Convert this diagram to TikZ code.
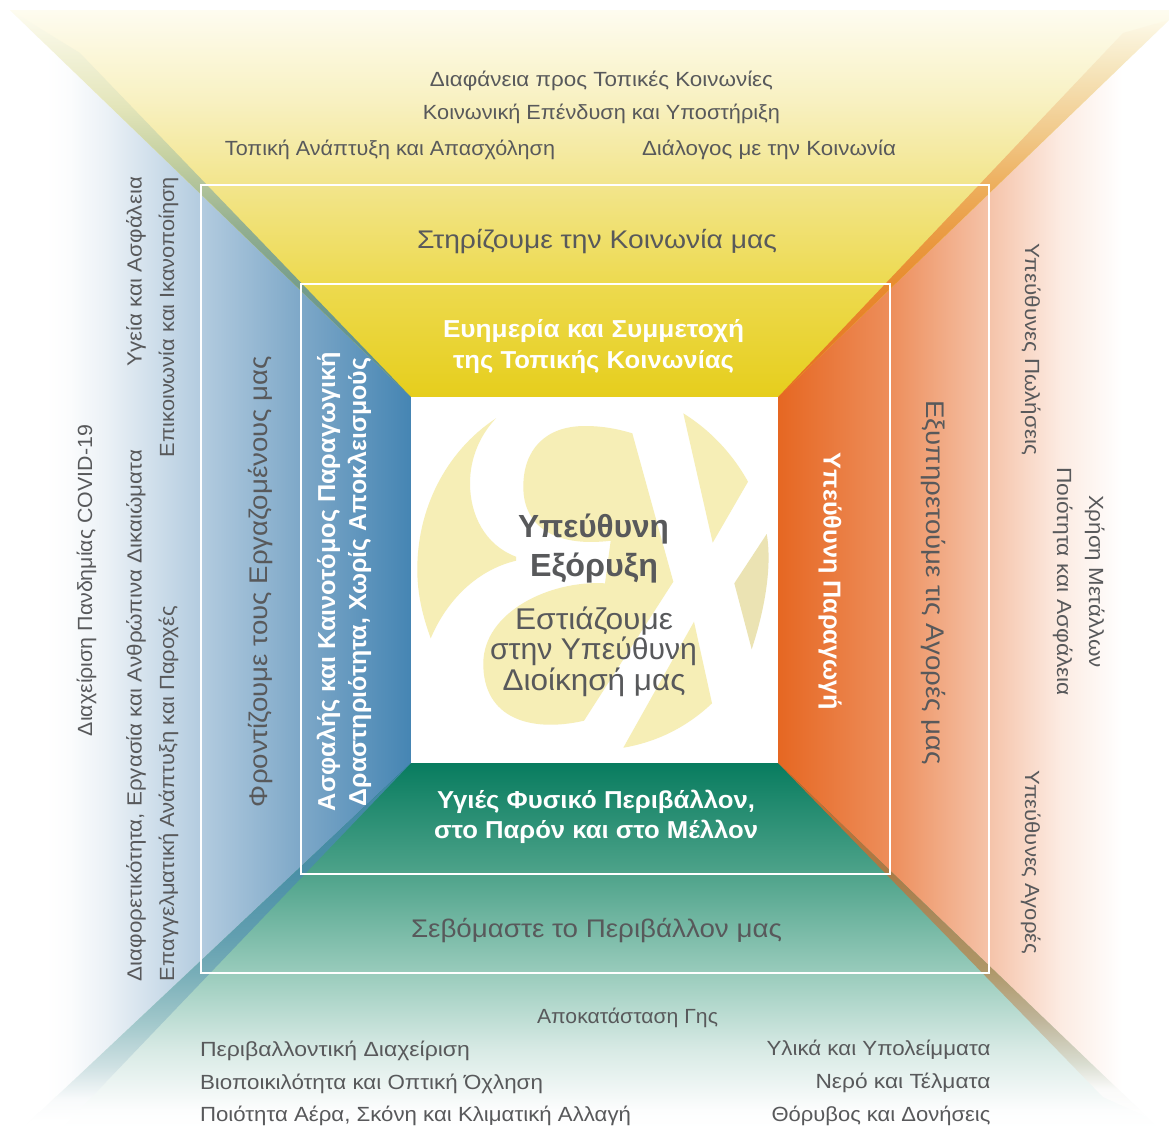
\documentclass[tikz,border=0pt]{standalone}
\usepackage{graphicx}
\usepackage{fontspec}
\setmainfont{Liberation Sans}
\definecolor{txt}{HTML}{58595B}
\definecolor{logoy}{HTML}{F6EEB6}
\definecolor{logog}{HTML}{EBE3B3}
\definecolor{ya}{HTML}{E6CE1C}\definecolor{yb}{HTML}{EDDA4F}\definecolor{yc}{HTML}{F2E58C}\definecolor{yd}{HTML}{F8F1C2}\definecolor{ye}{HTML}{FEFCF0}
\definecolor{ga}{HTML}{087C5F}\definecolor{gb}{HTML}{4EA38A}\definecolor{gc}{HTML}{98CBBB}\definecolor{gd}{HTML}{D8EAE5}\definecolor{ge}{HTML}{FCFDFD}
\definecolor{ba}{HTML}{4585B3}\definecolor{bb}{HTML}{7EA8C8}\definecolor{bc}{HTML}{B2CBDF}\definecolor{bd}{HTML}{EBF1F6}\definecolor{be}{HTML}{FBFCFD}
\definecolor{oa}{HTML}{E66722}\definecolor{ob}{HTML}{ED8E5B}\definecolor{oc}{HTML}{F5C3A9}\definecolor{od}{HTML}{FCEBE2}
\definecolor{tla}{HTML}{4F8A9C}\definecolor{tlb}{HTML}{5E9194}\definecolor{tlc}{HTML}{779E8C}\definecolor{tld}{HTML}{93AF90}\definecolor{tle}{HTML}{C3CFA0}\definecolor{tlf}{HTML}{E3E5BA}
\definecolor{tra}{HTML}{E66A20}\definecolor{trb}{HTML}{E88C2E}\definecolor{trc}{HTML}{EA9C45}\definecolor{trd}{HTML}{EDAE5C}\definecolor{tre}{HTML}{F1C98A}\definecolor{trf}{HTML}{F6E6BE}\definecolor{trg}{HTML}{FDF9E8}
\definecolor{bla}{HTML}{3F84A6}\definecolor{blb}{HTML}{4A8FA6}\definecolor{blc}{HTML}{629FB0}\definecolor{bld}{HTML}{78AEB8}\definecolor{ble}{HTML}{A2C8CB}\definecolor{blf}{HTML}{CFE1E3}\definecolor{blg}{HTML}{F8FAFB}
\definecolor{bra}{HTML}{CC6826}\definecolor{brb}{HTML}{BE7036}\definecolor{brc}{HTML}{A97B47}\definecolor{brd}{HTML}{A98A5C}\definecolor{bre}{HTML}{AE9666}\definecolor{brf}{HTML}{BEB397}\definecolor{brg}{HTML}{D9DDD0}\definecolor{brh}{HTML}{FAFAF9}
\pgfdeclareverticalshading{yelsh}{100bp}{color(0bp)=(ya); color(25bp)=(ya); color(39.6bp)=(yb); color(52.4bp)=(yc); color(63.4bp)=(yd); color(75bp)=(ye); color(100bp)=(ye)}
\pgfdeclareverticalshading{gresh}{100bp}{color(0bp)=(white); color(25bp)=(white); color(27.5bp)=(ge); color(35.7bp)=(gd); color(46.4bp)=(gc); color(59.8bp)=(gb); color(75bp)=(ga); color(100bp)=(ga)}
\pgfdeclarehorizontalshading{blush}{100bp}{color(0bp)=(white); color(30.5bp)=(white); color(33.5bp)=(be); color(38bp)=(bd); color(49.6bp)=(bc); color(61.5bp)=(bb); color(75bp)=(ba); color(100bp)=(ba)}
\pgfdeclarehorizontalshading{orash}{100bp}{color(0bp)=(oa); color(25bp)=(oa); color(39.3bp)=(ob); color(52bp)=(oc); color(61.1bp)=(od); color(69bp)=(white); color(100bp)=(white)}
\pgfdeclareverticalshading{tlsh}{100bp}{color(0bp)=(tla); color(25bp)=(tla); color(31.1bp)=(tlb); color(39.7bp)=(tlc); color(47bp)=(tld); color(55.6bp)=(tle); color(62.5bp)=(tlf); color(75bp)=(ye); color(100bp)=(ye)}
\pgfdeclareverticalshading{trsh}{100bp}{color(0bp)=(tra); color(25bp)=(tra); color(40.1bp)=(trb); color(47.1bp)=(trc); color(52.9bp)=(trd); color(60bp)=(tre); color(68.8bp)=(trf); color(75bp)=(trg); color(100bp)=(trg)}
\pgfdeclareverticalshading{blsh}{100bp}{color(0bp)=(white); color(26bp)=(white); color(29bp)=(blg); color(33.4bp)=(blf); color(39.4bp)=(ble); color(46.2bp)=(bld); color(51.2bp)=(blc); color(60.3bp)=(blb); color(75bp)=(bla); color(100bp)=(bla)}
\pgfdeclareverticalshading{brsh}{100bp}{color(0bp)=(white); color(25bp)=(white); color(29bp)=(brh); color(32.6bp)=(brg); color(39.1bp)=(brf); color(46.2bp)=(bre); color(53.2bp)=(brd); color(59.5bp)=(brc); color(67bp)=(brb); color(75bp)=(bra); color(100bp)=(bra)}
\newcommand\tx[3]{\fontsize{#2pt}{#2pt}\selectfont\resizebox{#1pt}{\height}{#3}}
\tikzset{
  lbl/.style={anchor=base,inner sep=0pt,outer sep=0pt,text=txt},
  lblw/.style={anchor=base,inner sep=0pt,outer sep=0pt,text=white,font=\bfseries},
  lbll/.style={anchor=base west,inner sep=0pt,outer sep=0pt,text=txt},
  lblr/.style={anchor=base east,inner sep=0pt,outer sep=0pt,text=txt},
  framebox/.style={draw=white,line width=2pt,fill=none}
}
\begin{document}
\begin{tikzpicture}[x=1pt,y=-1pt]
\useasboundingbox (0,0) rectangle (1169,1128);
\fill[white] (0,0) rectangle (1169,1128);
% four panels
\shade[shading=blush] (411,397) -- (80,53) -- (0,53) -- (0,1128) -- (62,1128) -- (411,763) -- cycle;
\shade[shading=orash] (778,397) -- (1123,33) -- (1169,33) -- (1169,1128) -- (1134,1128) -- (778,763) -- cycle;
\shade[shading=yelsh] (10,10) -- (1169,10) -- (1169,20) -- (778,397) -- (411,397) -- cycle;
\shade[shading=gresh] (411,763) -- (23,1128) -- (1158,1128) -- (778,763) -- cycle;
% overlap bands along the diagonals
\shade[shading=tlsh] (411,397) -- (10,10) -- (80,53) -- cycle;
\shade[shading=trsh] (778,397) -- (1123,33) -- (1169,20) -- cycle;
\shade[shading=blsh] (411,763) -- (23,1128) -- (62,1128) -- cycle;
\shade[shading=brsh] (778,763) -- (1147,1117) -- (1103,1097) -- cycle;
% centre
\fill[white] (411,396.7) rectangle (777.7,763.3);
% logo
\fill[logoy] (496,418.3) .. controls (445,452) and (417,510) .. (417.3,570) .. controls (417.3,595) and (423,617) .. (430.7,638.3) .. controls (447,600) and (477,570) .. (516,560.7) -- (516,556.7) .. controls (485,545) and (470,515) .. (470,483.3) .. controls (470,458) and (480,435) .. (496,418.3) -- cycle;
\fill[logoy] (632.3,433.3) -- (673.3,581.7) -- (584,720.7) .. controls (530,733) and (483,718) .. (483.3,663.3) .. controls (483.5,612) and (550,580) .. (605,583.3) -- (610.7,540.7) .. controls (560,547) and (523.3,530) .. (523.3,486.7) .. controls (523.3,450) and (545,426) .. (585,426) .. controls (603,426) and (618,429) .. (632.3,433.3) -- cycle;
\fill[logoy] (683.3,413.3) .. controls (710,430) and (732,453) .. (748,481.7) -- (712.7,542.7) -- cycle;
\fill[logog] (766.7,534) .. controls (770,552) and (771,590) .. (751.7,649.3) -- (734.3,583.3) -- cycle;
\fill[logoy] (694,621.7) -- (712,703.3) .. controls (687,727) and (657,742) .. (623.3,747.7) -- cycle;
% frames
\draw[framebox] (201.3,185) rectangle (989,972.7);
\draw[framebox] (300.6,283.7) rectangle (890,874.2);
% top
\node[lbl] (t1) at (601.5,86) {\tx{343}{20.5}{Διαφάνεια προς Τοπικές Κοινωνίες}};
\node[lbl] (t2) at (601.5,119) {\tx{357}{20.5}{Κοινωνική Επένδυση και Υποστήριξη}};
\node[lbl] (t3) at (390,155) {\tx{330}{20.5}{Τοπική Ανάπτυξη και Απασχόληση}};
\node[lbl] (t4) at (769,155) {\tx{254}{20.5}{Διάλογος με την Κοινωνία}};
\node[lbl] (t5) at (597,248) {\tx{360}{25.5}{Στηρίζουμε την Κοινωνία μας}};
\node[lblw] (t6) at (593.5,337) {\tx{301}{24.5}{Ευημερία και Συμμετοχή}};
\node[lblw] (t7) at (593.5,368) {\tx{281}{24.5}{της Τοπικής Κοινωνίας}};
% centre text
\node[lbl,font=\bfseries] (c1) at (593.5,537) {\tx{151}{32}{Υπεύθυνη}};
\node[lbl,font=\bfseries] (c2) at (594,576) {\tx{128}{32}{Εξόρυξη}};
\node[lbl] (c3) at (594,629) {\tx{158}{30}{Εστιάζουμε}};
\node[lbl] (c4) at (593.5,659.5) {\tx{207}{30}{στην Υπεύθυνη}};
\node[lbl] (c5) at (594,690.5) {\tx{183}{30}{Διοίκησή μας}};
% bottom
\node[lblw] (b1) at (596,808) {\tx{318}{24.5}{Υγιές Φυσικό Περιβάλλον,}};
\node[lblw] (b2) at (596,838) {\tx{324}{24.5}{στο Παρόν και στο Μέλλον}};
\node[lbl] (b3) at (596.5,937) {\tx{371}{25.5}{Σεβόμαστε το Περιβάλλον μας}};
\node[lbl] (b4) at (627.5,1023) {\tx{181}{20.5}{Αποκατάσταση Γης}};
\node[lbll] (b5) at (200,1056) {\tx{270}{20.5}{Περιβαλλοντική Διαχείριση}};
\node[lbll] (b6) at (200,1089) {\tx{343}{20.5}{Βιοποικιλότητα και Οπτική Όχληση}};
\node[lbll] (b7) at (200,1121) {\tx{431}{20.5}{Ποιότητα Αέρα, Σκόνη και Κλιματική Αλλαγή}};
\node[lblr] (b8) at (990.5,1055) {\tx{224}{20.5}{Υλικά και Υπολείμματα}};
\node[lblr] (b9) at (990.5,1088) {\tx{175}{20.5}{Νερό και Τέλματα}};
\node[lblr] (b10) at (990.5,1121) {\tx{219}{20.5}{Θόρυβος και Δονήσεις}};
% left
\node[lbl,rotate=90] (l1) at (92,580.5) {\tx{311}{20.5}{Διαχείριση Πανδημίας COVID-19}};
\node[lbl,rotate=90] (l2) at (141.5,715.5) {\tx{531}{20.5}{Διαφορετικότητα, Εργασία και Ανθρώπινα Δικαιώματα}};
\node[lbl,rotate=90] (l3) at (174,793.5) {\tx{375}{20.5}{Επαγγελματική Ανάπτυξη και Παροχές}};
\node[lbl,rotate=90] (l4) at (141.5,271.5) {\tx{189}{20.5}{Υγεία και Ασφάλεια}};
\node[lbl,rotate=90] (l5) at (174,317) {\tx{280}{20.5}{Επικοινωνία και Ικανοποίηση}};
\node[lbl,rotate=90] (l6) at (267,581.5) {\tx{451}{25.5}{Φροντίζουμε τους Εργαζομένους μας}};
\node[lblw,rotate=90] (l7) at (335,581.5) {\tx{459}{24.5}{Ασφαλής και Καινοτόμος Παραγωγική}};
\node[lblw,rotate=90] (l8) at (366,582) {\tx{448}{24.5}{Δραστηριότητα, Χωρίς Αποκλεισμούς}};
% right
\node[lblw,rotate=-90] (r1) at (823.5,581.5) {\tx{257}{24.5}{Υπεύθυνη Παραγωγή}};
\node[lbl,rotate=-90] (r2) at (926.5,582.5) {\tx{365}{25.5}{Εξυπηρετούμε τις Αγορές μας}};
\node[lbl,rotate=-90] (r3) at (1025,349) {\tx{212}{20.5}{Υπεύθυνες Πωλήσεις}};
\node[lbl,rotate=-90] (r4) at (1089,581.5) {\tx{173}{20.5}{Χρήση Μετάλλων}};
\node[lbl,rotate=-90] (r5) at (1057,581.5) {\tx{229}{20.5}{Ποιότητα και Ασφάλεια}};
\node[lbl,rotate=-90] (r6) at (1025,862) {\tx{184}{20.5}{Υπεύθυνες Αγορές}};
\end{tikzpicture}
\end{document}
